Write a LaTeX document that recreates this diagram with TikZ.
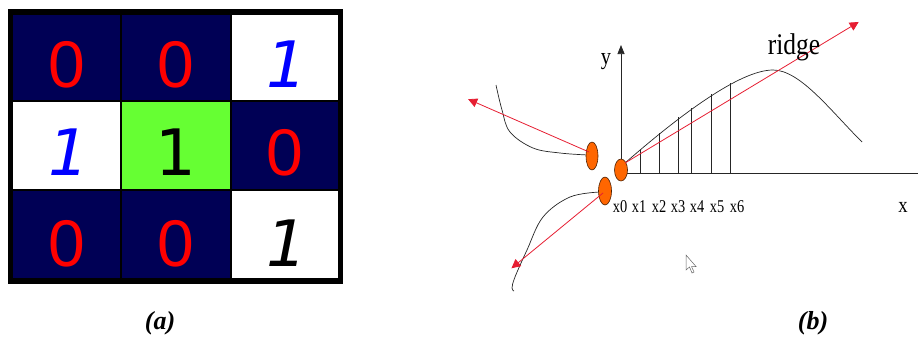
\documentclass[tikz,border=0pt]{standalone}
\usepackage{fontspec}
\setmainfont{Liberation Serif}
\newfontfamily\digitfont{Liberation Sans}
\newfontfamily\onefont{DejaVu Sans}
\usetikzlibrary{arrows.meta,shapes.geometric}
\definecolor{navy}{RGB}{0,0,85}
\definecolor{cellgreen}{RGB}{102,255,51}
\definecolor{dotorange}{RGB}{255,102,0}
\definecolor{arrred}{RGB}{230,30,50}
\tikzset{
  dig/.style={anchor=base,inner sep=0pt,font=\digitfont\fontsize{66}{66}\selectfont},
  zero/.style={dig,text=red},
  uone/.style={anchor=base,inner sep=0pt,font=\onefont\fontsize{64}{64}\selectfont},
  ione/.style={anchor=base,inner sep=0pt,font=\onefont\itshape\fontsize{64}{64}\selectfont},
  captxt/.style={anchor=base,inner sep=0pt,font=\bfseries\itshape\fontsize{26}{26}\selectfont},
  lbl/.style={anchor=base,inner sep=0pt,font=\fontsize{18}{18}\selectfont},
  dot/.style={ellipse,draw=black!70!dotorange,line width=0.6pt,fill=dotorange,inner sep=0pt},
  redarrow/.style={draw=arrred,line width=0.8pt,-{Triangle[length=9pt,width=9pt]},shorten >=-2pt},
  thinline/.style={line width=0.7pt,draw=black!85},
}
\begin{document}
\begin{tikzpicture}[x=1pt,y=-1pt]
\useasboundingbox (0,0) rectangle (918,338);
% ---------- panel (a) ----------
\fill[navy] (13,15) rectangle (338,278);
\fill[white] (231,15) rectangle (338,101);
\fill[white] (13,101) rectangle (121,190);
\fill[cellgreen] (121,101) rectangle (231,190);
\fill[white] (231,190) rectangle (338,278);
\draw[line width=1.3pt] (121,15) -- (121,278);
\draw[line width=1.3pt] (231,15) -- (231,278);
\draw[line width=1.3pt] (13,101) -- (338,101);
\draw[line width=1.3pt] (13,190) -- (338,190);
\draw[line width=5.5pt] (10.5,12) rectangle (340.5,281);
\node[zero] (a11) at (67,87) {0};
\node[zero] (a12) at (176,87) {0};
\node[ione,text=blue] (a13) at (287,87) {1};
\node[ione,text=blue] (a21) at (69,175) {1};
\node[uone,text=black] (a22) at (176,175) {1};
\node[zero] (a23) at (285,175) {0};
\node[zero] (a31) at (67,266) {0};
\node[zero] (a32) at (176,266) {0};
\node[ione,text=black] (a33) at (287,266) {1};
\node[captxt] (capa) at (160,329) {(a)};
\node[captxt] (capb) at (813,329) {(b)};
% ---------- panel (b) ----------
\coordinate (O) at (621,173);
\coordinate (ytop) at (621,45);
\coordinate (xend) at (918,173);
\draw[thinline] (O) -- (xend);
\draw[thinline,-{Triangle[length=9pt,width=7pt]}] (O) -- (ytop);
% vertical strips
\foreach \xx/\yy in {640/150,659/133,678/117,691/108,711/94,730/83}
  \draw[thinline] (\xx,173) -- (\xx,\yy);
% ridge curve
\coordinate (c0) at (625,163);
\coordinate (peak) at (773,70);
\coordinate (cend) at (862,142);
\draw[thinline] (c0) .. controls (680,115) and (740,70) .. (peak)
  .. controls (800,70) and (830,110) .. (cend);
% left curves
\draw[thinline] plot[smooth,tension=0.6] coordinates {(496,85) (502,110) (510,132) (533,148) (560,153) (588,155)};
\draw[thinline] plot[smooth,tension=0.6] coordinates {(600,192) (570,197) (543,217) (527,250) (515,277) (512,288) (514,291)};
% ellipses
\node[dot,minimum width=12pt,minimum height=28pt] (e1) at (592,156) {};
\node[dot,minimum width=13pt,minimum height=22pt] (e2) at (621,170) {};
\node[dot,minimum width=13pt,minimum height=28pt] (e3) at (605,191) {};
% red arrows
\coordinate (r1) at (857,23);
\coordinate (r2) at (470,100);
\coordinate (r3) at (513,267);
\draw[redarrow] (c0) -- (r1);
\draw[redarrow] (589,152) -- (r2);
\draw[redarrow] (603,193) -- (r3);
% labels
\node[lbl,font=\fontsize{24}{24}\selectfont] (ylab) at (606,64) {\scalebox{0.85}[1]{y}};
\node[lbl,font=\fontsize{22}{22}\selectfont] (xlab) at (903,212) {\scalebox{0.85}[1]{x}};
\node[lbl,font=\fontsize{30}{30}\selectfont] (ridge) at (794,54) {\scalebox{0.85}[1]{ridge}};
\foreach \xx/\t in {620/0,639/1,659/2,678/3,697/4,717/5,737/6}
  \node[lbl] (xl\t) at (\xx,212) {\scalebox{0.8}[1]{x\t}};
% mouse cursor
\draw[black!60,fill=white,line width=0.5pt] (686,255) -- (686,270) -- (689.5,267) -- (692,273) -- (694,272) -- (691.5,266.5) -- (696,266.5) -- cycle;
\end{tikzpicture}
\end{document}
